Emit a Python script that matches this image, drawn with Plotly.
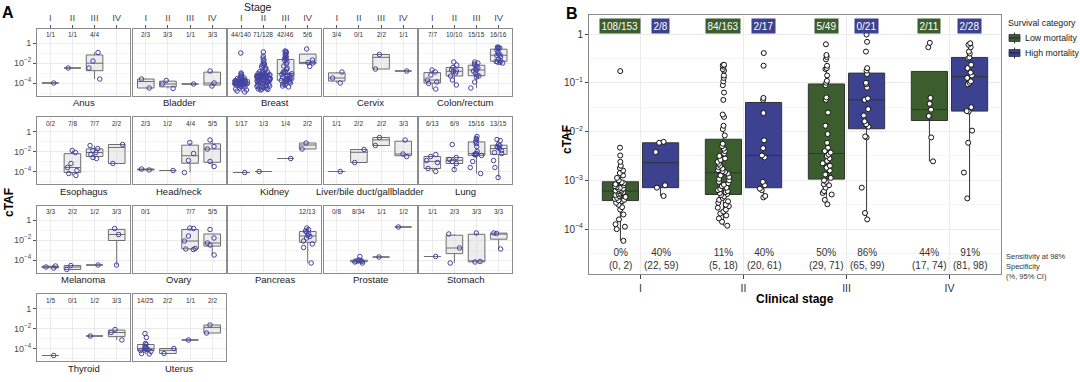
import plotly.graph_objects as go

STAGES = ["I", "II", "III", "IV"]

# ---------------- Panel A: log10(cTAF) per cancer type and stage ----------------
ANUS = {"I": [-4.0], "II": [-2.5], "III": [-0.95, -1.8, -2.5, -3.6], "IV": []}
BLADDER = {"I": [-3.6, -4.5], "II": [-3.75, -4.1, -4.55], "III": [-4.1], "IV": [-2.8, -4.0, -4.3]}
BREAST = {
    "I": [-1.0, -3.0, -3.1, -3.2, -3.3, -3.4, -3.45, -3.5, -3.55, -3.6, -3.65,
          -3.72, -3.75, -3.78, -3.8, -3.83, -3.85, -3.88, -3.9, -3.92, -3.94,
          -3.96, -3.98, -4.0, -4.02, -4.04, -4.05, -4.06, -4.07, -4.08, -4.09, -4.1,
          -4.12, -4.15, -4.2, -4.25, -4.3, -4.35, -4.4, -4.5, -4.6, -4.7, -4.8, -4.9],
    "II": [-0.9, -1.3, -1.5, -1.7, -1.8, -2.0, -2.1, -2.2, -2.3, -2.4, -2.5, -2.6, -2.7, -2.8, -2.85, -2.9, -3.0, -3.05,
           -3.12, -3.14, -3.16, -3.18, -3.2, -3.22, -3.24, -3.26, -3.28, -3.3, -3.31, -3.32, -3.33, -3.35, -3.36, -3.37, -3.38,
           -3.4,
           -3.42, -3.45, -3.48, -3.5, -3.53, -3.56, -3.6, -3.63, -3.66, -3.7, -3.73, -3.76, -3.79, -3.82, -3.85, -3.87, -3.89,
           -3.92, -3.95, -4.0, -4.05, -4.1, -4.15, -4.2, -4.25, -4.3, -4.35, -4.4, -4.45, -4.5, -4.55, -4.6, -4.62, -4.65, -4.7],
    "III": [-0.8, -0.85, -0.9, -1.0, -1.1, -1.2, -1.3, -1.4, -1.5, -1.55,
            -1.65, -1.75, -1.9, -2.1, -2.3, -2.5, -2.65, -2.8, -2.9, -2.95,
            -3.02, -3.08, -3.15, -3.2, -3.3, -3.35, -3.4, -3.5, -3.55, -3.6, -3.65,
            -3.72, -3.75, -3.8, -3.85, -3.9, -3.95, -4.0, -4.1, -4.2, -4.3, -4.4],
    "IV": [-0.6, -1.7, -1.95, -2.0, -2.35],
}
CERVIX = {"I": [-2.9, -3.5, -4.0], "II": [], "III": [-1.15, -2.6], "IV": [-2.8]}
COLON = {
    "I": [-2.7, -2.9, -3.2, -3.7, -3.9, -4.05, -4.6],
    "II": [-1.9, -2.2, -2.45, -2.7, -2.8, -2.85, -3.0, -3.3, -3.7, -4.2],
    "III": [-1.9, -2.0, -2.1, -2.2, -2.3, -2.5, -2.6, -2.7, -2.8, -3.0, -3.2, -3.3, -3.4, -3.9, -4.5],
    "IV": [-0.4, -0.45, -0.5, -0.55, -0.7, -0.9, -1.1, -1.2, -1.25, -1.4, -1.6, -1.8, -1.85, -1.9, -1.95, -2.0],
}
ESOPHAGUS = {"I": [], "II": [-1.9, -2.1, -3.2, -3.6, -3.9, -4.2, -4.4],
             "III": [-1.4, -1.7, -1.9, -2.1, -2.3, -2.6, -2.7], "IV": [-1.3, -3.2]}
HEAD_NECK = {"I": [-3.75, -3.85], "II": [-3.9], "III": [-1.1, -2.2, -2.9, -4.1],
             "IV": [-0.85, -1.5, -1.75, -3.0, -3.5]}
KIDNEY = {"I": [-4.1], "II": [-4.0], "III": [-2.7], "IV": [-1.15, -1.75]}
LIVER = {"I": [-4.0], "II": [-1.8, -3.1], "III": [-0.6, -1.4], "IV": [-0.85, -2.25, -2.5]}
LUNG = {
    "I": [-2.3, -2.5, -2.9, -3.1, -3.7, -4.0],
    "II": [-1.3, -2.6, -2.8, -3.0, -3.2, -3.8],
    "III": [-0.5, -0.7, -0.8, -1.0, -1.2, -1.5, -2.0, -2.2, -2.25, -2.3, -2.35, -2.4, -3.0, -3.6, -4.2],
    "IV": [-0.8, -0.9, -1.3, -1.4, -1.5, -1.6, -1.7, -1.9, -2.1, -2.2, -2.9, -3.6, -4.6],
}
MELANOMA = {"I": [-4.6, -4.7, -4.8], "II": [-4.55, -4.95], "III": [-4.5], "IV": [-0.85, -1.45, -4.5]}
OVARY = {"I": [], "II": [], "III": [-0.8, -0.85, -1.6, -2.1, -2.85, -2.9, -2.95],
         "IV": [-0.95, -1.8, -2.3, -2.5, -3.5]}
PANCREAS = {"I": [], "II": [], "III": [],
            "IV": [-0.8, -0.95, -1.1, -1.2, -1.4, -1.55, -1.65, -1.8, -2.1, -2.4, -2.75, -4.3]}
PROSTATE = {"I": [], "II": [-3.65, -4.0, -4.05, -4.1, -4.1, -4.15, -4.2, -4.3], "III": [-3.7], "IV": [-0.7]}
STOMACH = {"I": [-3.65], "II": [-1.4, -2.8, -4.3], "III": [-1.3, -4.15, -4.2], "IV": [-1.3, -1.35, -2.9]}
THYROID = {"I": [-4.7], "II": [], "III": [-2.75], "IV": [-2.1, -2.4, -3.15]}
UTERUS = {"I": [-2.5, -2.9, -3.5, -3.6, -3.8, -3.9, -4.0, -4.05, -4.1, -4.15, -4.2, -4.3, -4.5, -4.55],
          "II": [-4.0, -4.5], "III": [-3.15], "IV": [-1.65, -2.45]}

FACET_NAMES = ["Anus", "Bladder", "Breast", "Cervix", "Colon/rectum",
               "Esophagus", "Head/neck", "Kidney", "Liver/bile duct/gallbladder", "Lung",
               "Melanoma", "Ovary", "Pancreas", "Prostate", "Stomach",
               "Thyroid", "Uterus"]
FACET_DATA = [ANUS, BLADDER, BREAST, CERVIX, COLON,
              ESOPHAGUS, HEAD_NECK, KIDNEY, LIVER, LUNG,
              MELANOMA, OVARY, PANCREAS, PROSTATE, STOMACH,
              THYROID, UTERUS]
FACET_COUNTS = [
    ["1/1", "1/1", "4/4", ""], ["2/3", "3/3", "1/1", "3/3"], ["44/140", "71/128", "42/46", "5/6"],
    ["3/4", "0/1", "2/2", "1/1"], ["7/7", "10/10", "15/15", "16/16"],
    ["0/2", "7/8", "7/7", "2/2"], ["2/3", "1/2", "4/4", "5/5"], ["1/17", "1/3", "1/4", "2/2"],
    ["1/1", "2/2", "2/2", "3/3"], ["6/13", "6/9", "15/16", "13/15"],
    ["3/3", "2/2", "1/2", "3/3"], ["0/1", "", "7/7", "5/5"], ["", "", "", "12/13"],
    ["0/8", "8/34", "1/1", "1/2"], ["1/1", "2/3", "3/3", "3/3"],
    ["1/5", "0/1", "1/2", "3/3"], ["14/25", "2/2", "1/1", "2/2"],
]

# ---------------- Panel B: log10(cTAF) by clinical stage and survival category ----------------
LOW_I = [-0.76, -2.33, -2.49, -2.62, -2.7, -2.75, -2.8, -2.85, -2.9, -2.95, -3.0,
         -3.04, -3.06, -3.08, -3.1, -3.12, -3.14, -3.15, -3.17, -3.18, -3.2, -3.21,
         -3.22,
         -3.23, -3.25, -3.27, -3.28, -3.3, -3.32, -3.34, -3.36, -3.38, -3.4, -3.41,
         -3.43, -3.46, -3.5, -3.55, -3.6, -3.7, -3.8, -3.9, -3.95, -4.0, -4.24]
LOW_II = [-0.63, -0.64, -0.67, -0.72, -0.75, -0.85, -0.9, -0.97, -1.05, -1.2, -1.35, -1.65, -1.7, -1.88, -1.95, -2.08,
          -2.25, -2.3, -2.35, -2.4, -2.45, -2.5, -2.55, -2.58, -2.62, -2.66, -2.7, -2.73, -2.76, -2.79, -2.81, -2.83,
          -2.86, -2.9, -2.93, -2.97, -3.0, -3.03, -3.06, -3.09, -3.12, -3.15, -3.18, -3.2, -3.22, -3.24, -3.26, -3.28,
          -3.3, -3.33, -3.36, -3.4, -3.43, -3.46, -3.5, -3.53, -3.56, -3.6, -3.64, -3.68, -3.72, -3.78, -3.85, -3.93]
LOW_III = [-0.21, -0.43, -0.47, -0.52, -0.65, -0.7, -0.72, -0.85, -0.96, -1.0,
           -1.05, -1.3, -1.35, -1.61, -1.88, -2.05, -2.23, -2.33, -2.4, -2.43,
           -2.47, -2.5, -2.55, -2.6, -2.65, -2.7, -2.74, -2.8, -2.88, -2.95,
           -3.0, -3.03, -3.08, -3.1, -3.15, -3.22, -3.26, -3.29, -3.4, -3.49]
LOW_IV = [-0.18, -0.27, -1.31, -1.43, -1.55, -1.68, -1.7, -2.12, -2.61]
HIGH_I = [-2.21, -2.23, -2.42, -3.1, -3.15, -3.32]
HIGH_II = [-0.39, -0.65, -1.31, -1.35, -1.62, -2.18, -2.34, -2.49, -2.53, -3.03, -3.1, -3.17, -3.2, -3.32, -3.35]
HIGH_III = [-0.01, -0.16, -0.36, -0.7, -0.75, -0.82, -1.0, -1.03, -1.1, -1.32, -1.35, -1.54, -1.67, -1.79,
            -1.85, -1.9, -2.1, -2.12, -3.15, -3.67, -3.8]
HIGH_IV = [-0.19, -0.22, -0.27, -0.36, -0.4, -0.48, -0.5, -0.63, -0.7, -0.79, -0.85, -0.9, -0.97, -1.0,
           -1.03, -1.5, -1.58, -1.59, -1.98, -2.23, -2.84, -3.37]

COUNTS_LOW = ["108/153", "84/163", "5/49", "2/11"]
COUNTS_HIGH = ["2/8", "2/17", "0/21", "2/28"]
SENS_LOW = ["0%", "11%", "50%", "44%"]
CI_LOW = ["(0, 2)", "(5, 18)", "(29, 71)", "(17, 74)"]
SENS_HIGH = ["40%", "40%", "86%", "91%"]
CI_HIGH = ["(22, 59)", "(20, 61)", "(65, 99)", "(81, 98)"]
GROUP_NAMES = ["Low mortality", "High mortality"]

# ---------------- styling ----------------
W, H = 1080, 382
FONT = "Liberation Sans, Arial, sans-serif"
PT_BLUE = "#4343a3"
GREEN = "#3c5e2e"
BLUE = "#3c4190"
GRID = "#ebebeb"
GRID_MINOR = "#f5f5f5"
BORDER = "#8c8c8c"
TICKTXT = "#4d4d4d"


def px_x(x):
    return x / W


def px_y(y):
    return 1 - y / H


def sup(e):
    return "1" if e == 0 else "10<sup>\u2212%d</sup>" % (-e)


def paper_text(x, y, text, size, color="#1a1a1a", xanchor="center", **kw):
    return dict(x=px_x(x), y=px_y(y), xref="paper", yref="paper", text=text, showarrow=False,
                xanchor=xanchor, yanchor="middle", font=dict(size=size, color=color), **kw)


COL_PX = [(37, 130), (132.5, 225.5), (228, 321), (323.5, 416.5), (419, 512)]
ROW_PX = [(28.5, 95.5), (117, 184), (205.5, 272.5), (294, 361)]

fig = go.Figure()
layout = {}
annotations = []

for i, (name, data, counts) in enumerate(zip(FACET_NAMES, FACET_DATA, FACET_COUNTS)):
    r, c = divmod(i, 5)
    n = i + 1
    xs, ys = [], []
    for s in STAGES:
        for v in data[s]:
            xs.append(s)
            ys.append(10 ** v)
    fig.add_trace(go.Box(
        x=xs, y=ys, xaxis="x%d" % n, yaxis="y%d" % n,
        boxpoints="all", jitter=0.8, pointpos=0, width=0.75, whiskerwidth=0,
        fillcolor="rgba(215,215,215,0.45)", line=dict(color="#6e6e6e", width=1),
        marker=dict(symbol="circle-open", size=4.5, color=PT_BLUE, line=dict(width=1, color=PT_BLUE)),
        showlegend=False, hoverinfo="skip",
    ))
    x0, x1 = COL_PX[c]
    y0, y1 = ROW_PX[r]
    layout["xaxis%d" % n] = dict(
        domain=[px_x(x0), px_x(x1)], anchor="y%d" % n, type="category",
        categoryorder="array", categoryarray=STAGES, range=[-0.6, 3.6],
        showgrid=True, gridcolor=GRID, gridwidth=1,
        showline=True, mirror=True, linecolor=BORDER, linewidth=1,
        side="top" if r == 0 else "bottom",
        showticklabels=(r == 0), ticks="outside" if r == 0 else "", ticklen=3, tickcolor="#555",
        tickfont=dict(size=9.5, color=TICKTXT), zeroline=False, fixedrange=True,
    )
    layout["yaxis%d" % n] = dict(
        domain=[px_y(y1), px_y(y0)], anchor="x%d" % n, type="log", range=[-5.25, 1.45],
        tickmode="array", tickvals=[1, 1e-2, 1e-4], ticktext=[sup(0), sup(-2), sup(-4)],
        showticklabels=(c == 0), ticks="outside" if c == 0 else "", ticklen=3, tickcolor="#555",
        tickfont=dict(size=9, color=TICKTXT),
        showgrid=True, gridcolor=GRID, gridwidth=1,
        minor=dict(tickmode="array", tickvals=[1e-1, 1e-3, 1e-5], showgrid=True,
                   gridcolor=GRID_MINOR, gridwidth=1, ticks=""),
        showline=True, mirror=True, linecolor=BORDER, linewidth=1, zeroline=False, fixedrange=True,
    )
    for s, t in zip(STAGES, counts):
        if t:
            annotations.append(dict(x=s, y=0.85, xref="x%d" % n, yref="y%d" % n, text=t,
                                    xanchor="center", yanchor="middle",
                                    showarrow=False, font=dict(size=6.5, color="#333")))
    annotations.append(paper_text((x0 + x1) / 2, y1 + 7, name, 9.5))

# ---------------- Panel B ----------------
NB = len(FACET_NAMES) + 1
low_x, low_y, high_x, high_y = [], [], [], []
for s, vals in zip(STAGES, [LOW_I, LOW_II, LOW_III, LOW_IV]):
    low_x += [s] * len(vals)
    low_y += [10 ** v for v in vals]
for s, vals in zip(STAGES, [HIGH_I, HIGH_II, HIGH_III, HIGH_IV]):
    high_x += [s] * len(vals)
    high_y += [10 ** v for v in vals]

for nm, xs, ys, col, grp in [(GROUP_NAMES[0], low_x, low_y, GREEN, "low"),
                             (GROUP_NAMES[1], high_x, high_y, BLUE, "high")]:
    fig.add_trace(go.Box(
        x=xs, y=ys, name=nm, offsetgroup=grp, xaxis="x%d" % NB, yaxis="y%d" % NB,
        boxpoints="all", jitter=0.32, pointpos=0, whiskerwidth=0,
        fillcolor=col, line=dict(color="#333333", width=1),
        marker=dict(symbol="circle", size=5, color="white", line=dict(color="#111", width=1)),
        hoverinfo="skip", showlegend=False,
    ))

layout["xaxis%d" % NB] = dict(
    domain=[px_x(589), px_x(1001)], anchor="y%d" % NB, type="category",
    categoryorder="array", categoryarray=STAGES, range=[-0.5, 3.5],
    showgrid=True, gridcolor=GRID, gridwidth=1,
    showline=True, mirror=True, linecolor=BORDER, linewidth=1,
    ticks="outside", ticklen=4, tickcolor="#444", tickfont=dict(size=10.5, color="#333"),
    zeroline=False, fixedrange=True,
)
layout["yaxis%d" % NB] = dict(
    domain=[px_y(274), px_y(15)], anchor="x%d" % NB, type="log", range=[-4.92, 0.39],
    tickmode="array", tickvals=[1, 1e-1, 1e-2, 1e-3, 1e-4],
    ticktext=[sup(0), sup(-1), sup(-2), sup(-3), sup(-4)],
    ticks="outside", ticklen=3, tickcolor="#444", tickfont=dict(size=10, color="#333"),
    showgrid=True, gridcolor=GRID, gridwidth=1,
    minor=dict(tickmode="array", tickvals=[10 ** -0.5, 10 ** -1.5, 10 ** -2.5, 10 ** -3.5, 10 ** -4.5],
               showgrid=True, gridcolor=GRID_MINOR, gridwidth=1, ticks=""),
    showline=True, mirror=True, linecolor=BORDER, linewidth=1, zeroline=False, fixedrange=True,
)

OFF = 0.195
for k in range(4):
    for dx, txt, col in [(-OFF, COUNTS_LOW[k], GREEN), (OFF, COUNTS_HIGH[k], BLUE)]:
        annotations.append(dict(x=k + dx, y=0.16, xref="x%d" % NB, yref="y%d" % NB, text=txt,
                                xanchor="center", yanchor="middle",
                                showarrow=False, bgcolor=col, borderpad=1.5,
                                font=dict(size=10, color="white")))
    for dx, a, b in [(-OFF, SENS_LOW[k], CI_LOW[k]), (OFF, SENS_HIGH[k], CI_HIGH[k])]:
        annotations.append(dict(x=k + dx, y=-4.62, xref="x%d" % NB, yref="y%d" % NB,
                                xanchor="center", yanchor="middle",
                                text=a + "<br>" + b, showarrow=False,
                                font=dict(size=10, color="#333")))

annotations += [
    paper_text(8, 12, "<b>A</b>", 16, "black"),
    paper_text(572, 13, "<b>B</b>", 16, "black"),
    paper_text(258, 7, "Stage", 10.5),
    paper_text(9, 203, "<b>cTAF</b>", 12, "black", textangle=-90),
    paper_text(567, 140, "<b>cTAF</b>", 12, "black", textangle=-90),
    paper_text(795, 299, "<b>Clinical stage</b>", 12, "black"),
    paper_text(1004, 266, "Sensitivity at 98%<br>Specificity<br>(%, 95% CI)", 7.5, "#333",
               xanchor="left", align="left"),
    # legend
    paper_text(1006, 23, "Survival category", 8.8, xanchor="left"),
    paper_text(1023, 38, GROUP_NAMES[0], 8.8, xanchor="left"),
    paper_text(1023, 53, GROUP_NAMES[1], 8.8, xanchor="left"),
]

shapes = [
    # blank band under the data area (no gridlines behind the sensitivity text)
    dict(type="rect", xref="x%d" % NB, yref="y%d" % NB, x0=-0.5, x1=3.5, y0=-4.92, y1=-4.33,
         fillcolor="white", line=dict(width=0), layer="between"),
]
for yc, col in [(38, GREEN), (53, BLUE)]:
    shapes.append(dict(type="line", xref="paper", yref="paper", x0=px_x(1014.5), x1=px_x(1014.5),
                       y0=px_y(yc - 5.5), y1=px_y(yc + 5.5), line=dict(color="#333", width=1)))
    shapes.append(dict(type="rect", xref="paper", yref="paper", x0=px_x(1009), x1=px_x(1020),
                       y0=px_y(yc + 3.5), y1=px_y(yc - 3.5), fillcolor=col, line=dict(color="#333", width=0.8)))
    shapes.append(dict(type="line", xref="paper", yref="paper", x0=px_x(1009), x1=px_x(1020),
                       y0=px_y(yc), y1=px_y(yc), line=dict(color="#222", width=1)))

fig.update_layout(
    width=W, height=H, margin=dict(l=0, r=0, t=0, b=0),
    paper_bgcolor="white", plot_bgcolor="white",
    font=dict(family=FONT, color="#1a1a1a"),
    boxmode="group", boxgap=0.22, boxgroupgap=0.1,
    annotations=annotations, shapes=shapes, showlegend=False,
    **layout,
)

fig.write_html("out.html", config={"displayModeBar": False},
               post_script="document.body.style.margin='0px';document.body.style.overflow='hidden';")
